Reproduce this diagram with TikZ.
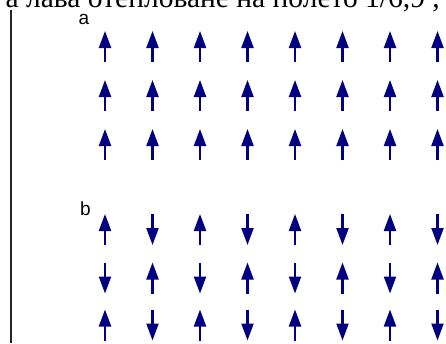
\documentclass[tikz,border=0pt]{standalone}
\usepackage{fontspec}
\setmainfont{Liberation Serif}
\newfontfamily\labelfont{Liberation Sans}
\usetikzlibrary{arrows.meta}
\definecolor{spinblue}{RGB}{0,0,128}

\begin{document}
\begin{tikzpicture}[x=1pt, y=-1pt, every node/.style={inner sep=0pt},
    spin/.style={-{Triangle[length=17pt,width=12pt]}, line width=2.2pt, spinblue}]
            \useasboundingbox (0,0) rectangle (446,343);
            \clip (0,0) rectangle (446,343);
            % Caption line (cut off at the top)
            \node[anchor=base east, text depth=0pt, font=\fontsize{29.5}{33}\selectfont] (caption) at (440,7) {а лава отепловане на полето 1/6,9 ,};
            % Left rule
            \coordinate (ruletop) at (11,10);
            \coordinate (rulebot) at (11,343);
            \draw[line width=1.3pt, black!85] (ruletop) -- (rulebot);
            % Panel labels
            \node[anchor=base, font=\labelfont\fontsize{19}{22}\selectfont] (labela) at (84,24) {a};
            \node[anchor=base, font=\labelfont\fontsize{19}{22}\selectfont] (labelb) at (85.5,215) {b};
            % Panel a: all spins up
            \foreach \j/\y in {1/46.5,2/95.5,3/144.5}
                \foreach \i in {1,...,8} {
                    \coordinate (A\i\j t) at (57.5+47.5*\i, \y+15.5);
                    \coordinate (A\i\j h) at (57.5+47.5*\i, \y-15.5);
                    \draw[spin] (A\i\j t) -- (A\i\j h);
                }
            % Panel b: alternating spins
            \foreach \j/\y in {1/229.5,2/278,3/325}
                \foreach \i in {1,...,8} {
                    \pgfmathtruncatemacro{\s}{mod(\i+\j,2)==0 ? 1 : -1}
                    \coordinate (B\i\j t) at (57.5+47.5*\i, \y+15.5*\s);
                    \coordinate (B\i\j h) at (57.5+47.5*\i, \y-15.5*\s);
                    \draw[spin] (B\i\j t) -- (B\i\j h);
                }
        \end{tikzpicture}
\end{document}
